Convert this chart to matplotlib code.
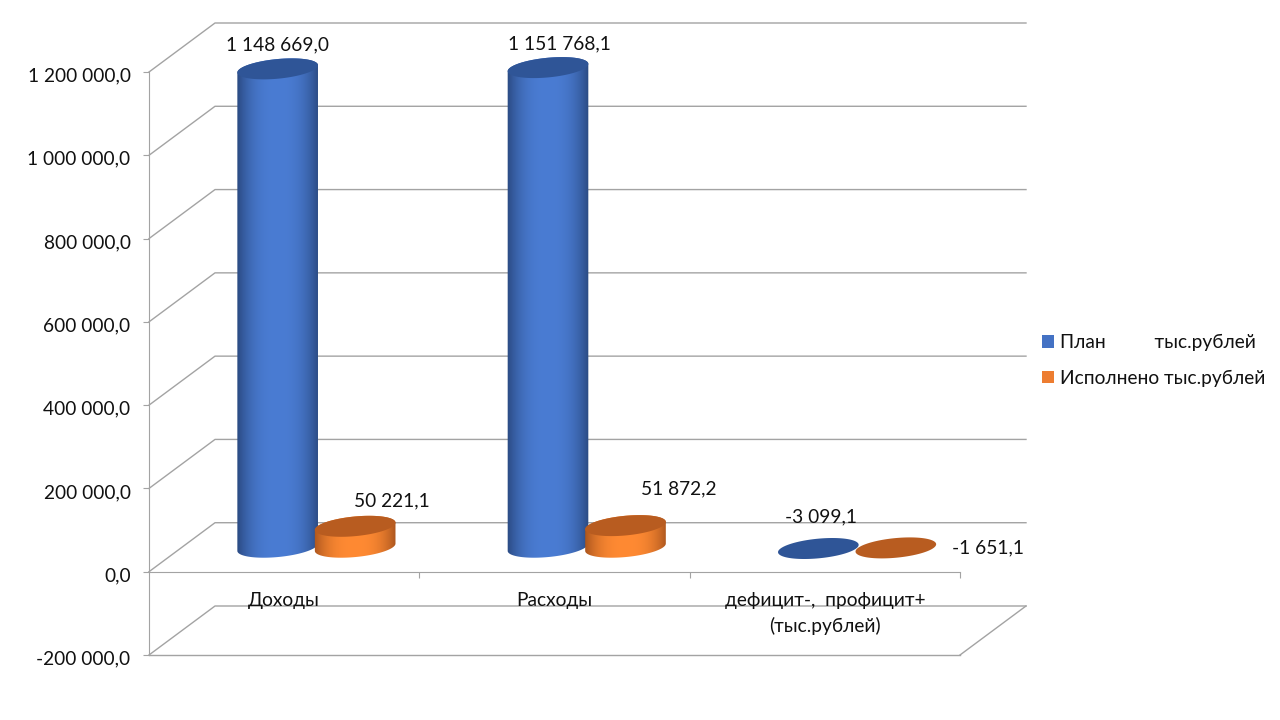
import numpy as np
import matplotlib
matplotlib.use("Agg")
import matplotlib.pyplot as plt
from matplotlib.patches import Patch, Polygon
from matplotlib.transforms import IdentityTransform, ScaledTranslation

plt.rcParams['font.family'] = ['Lato', 'DejaVu Sans']

categories = ["Доходы", "Расходы", "дефицит-,  профицит+\n(тыс.рублей)"]
plan = [1148669.0, 1151768.1, -3099.1]
done = [50221.1, 51872.2, -1651.1]
y_ticks = [-200000, 0, 200000, 400000, 600000, 800000, 1000000, 1200000]

legend_plan = "План          тыс.рублей"
legend_done = "Исполнено тыс.рублей"

# label offsets from the top of each cylinder, in pixels
plan_offsets = [(0, 24), (11, 24), (3, 32)]
done_offsets = [(37, 25), (53, 37), (92, 0)]

GREY = "#a3a3a3"
TEXT = "#111111"
FS = 13.8
W, H = 1280, 720
LEFT, RIGHT, TOP, BOTTOM = 149, 960, 72, 655
DEPTH_X, DEPTH_Y = 66, 49
BAR_A, BAR_B, BAR_TILT = 40.5, 9.8, np.radians(5.5)


def fmt(v):
    return f"{v:,.1f}".replace(",", " ").replace(".", ",")


fig = plt.figure(figsize=(W / 100, H / 100), dpi=100, facecolor="white")
ax = fig.add_axes([LEFT / W, (H - BOTTOM) / H, (RIGHT - LEFT) / W, (BOTTOM - TOP) / H])
ax.set_xlim(0, 3)
ax.set_ylim(y_ticks[0], y_ticks[-1])
ax.patch.set_visible(False)

px_x = 3 / (RIGHT - LEFT)
px_y = (y_ticks[-1] - y_ticks[0]) / (BOTTOM - TOP)
dx = DEPTH_X * px_x
dy = DEPTH_Y * px_y

# side wall, back wall and floor
for v in y_ticks:
    ax.plot([0, dx, 3 + dx], [v, v + dy, v + dy], color=GREY, lw=1, clip_on=False, zorder=1)
ax.plot([3, 3 + dx], [y_ticks[0], y_ticks[0] + dy], color=GREY, lw=1, clip_on=False, zorder=1)
ax.plot([0, 3], [y_ticks[0], y_ticks[0]], color=GREY, lw=1, clip_on=False, zorder=1)

for s in ["top", "right"]:
    ax.spines[s].set_visible(False)
ax.spines["left"].set_color(GREY)
ax.spines["bottom"].set_color(GREY)
ax.spines["bottom"].set_position(("data", 0))

ax.set_yticks(y_ticks)
ax.set_yticklabels([fmt(v) for v in y_ticks])
ax.tick_params(axis="y", length=4.3, width=0.8, color=GREY, pad=9, labelsize=FS, labelcolor=TEXT)
# tick labels sit a little below their ticks in the reference
nudge = ScaledTranslation(0, -2.5 / 100, fig.dpi_scale_trans)
for t in ax.get_yticklabels():
    t.set_transform(t.get_transform() + nudge)
ax.set_xticks([1, 2, 3])
ax.set_xticklabels(["", "", ""])
ax.tick_params(axis="x", which="major", length=4.3, width=0.8, color=GREY)
ax.set_xticks([0.5, 1.5, 2.5], minor=True)
ax.set_xticklabels(categories, minor=True, fontsize=FS, color=TEXT, linespacing=1.55)
ax.tick_params(axis="x", which="minor", length=0, pad=14.7)


def ellipse_pts(cx, cy, t):
    x = BAR_A * np.cos(t) * np.cos(BAR_TILT) - BAR_B * np.sin(t) * np.sin(BAR_TILT)
    y = BAR_A * np.cos(t) * np.sin(BAR_TILT) + BAR_B * np.sin(t) * np.cos(BAR_TILT)
    return np.column_stack([cx + x, cy + y])


def cylinder(x, value, edge, mid, cap, z):
    # x and value are data coords, the shape itself is drawn in pixels
    base = ax.transData.transform((x, dy / 2))
    top = ax.transData.transform((x, value + dy / 2))
    if value > 10000:
        low = ellipse_pts(base[0], base[1], np.linspace(np.pi, 2 * np.pi, 60))
        high = ellipse_pts(top[0], top[1], np.linspace(0, np.pi, 60))
        body = Polygon(np.vstack([low, high]), closed=True, transform=IdentityTransform(),
                       fc="none", ec="none")
        ax.add_patch(body)
        e, m = np.array(matplotlib.colors.to_rgb(edge)), np.array(matplotlib.colors.to_rgb(mid))
        u = np.linspace(-1, 1, 200)
        shade = (1 - np.abs(u) ** 2.6)[:, None]
        grad = (e + (m - e) * shade)[None, :, :]
        im = ax.imshow(grad, extent=[top[0] - 42, top[0] + 42, base[1] - 14, top[1] + 14],
                       transform=IdentityTransform(), aspect="auto", zorder=z, interpolation="bilinear")
        im.set_clip_path(body)
        im.set_clip_box(fig.bbox)
    ring = ellipse_pts(top[0], top[1], np.linspace(0, 2 * np.pi, 120))
    ax.add_patch(Polygon(ring, closed=True, transform=IdentityTransform(), fc=cap, ec="none",
                         zorder=z + 0.1, clip_on=False))


for i in range(len(categories)):
    c = i + 0.5 + dx / 2
    x_plan = c - 39.5 * px_x
    x_done = c + 38 * px_x
    cylinder(x_plan, plan[i], "#28467c", "#4a7cd3", "#2f5597", 3)
    cylinder(x_done, done[i], "#a5521c", "#ff8a33", "#b85c20", 4)
    for x, v, off in [(x_plan, plan[i], plan_offsets[i]), (x_done, done[i], done_offsets[i])]:
        ax.annotate(fmt(v), xy=(x, v + dy / 2), xytext=off, textcoords="offset pixels",
                    ha="center", va="center", fontsize=FS, color=TEXT, zorder=6,
                    annotation_clip=False)

handles = [Patch(fc="#4472c4", label=legend_plan), Patch(fc="#ed7d31", label=legend_done)]
fig.legend(handles=handles, loc="center left", bbox_to_anchor=(1042 / W, 1 - 360.5 / H),
           frameon=False, fontsize=FS, labelcolor=TEXT, handlelength=0.62, handleheight=0.62,
           handletextpad=0.3, labelspacing=0.95, borderaxespad=0, borderpad=0)

ax.set_xlim(0, 3)
ax.set_ylim(y_ticks[0], y_ticks[-1])
fig.savefig("out.png", dpi=100)
